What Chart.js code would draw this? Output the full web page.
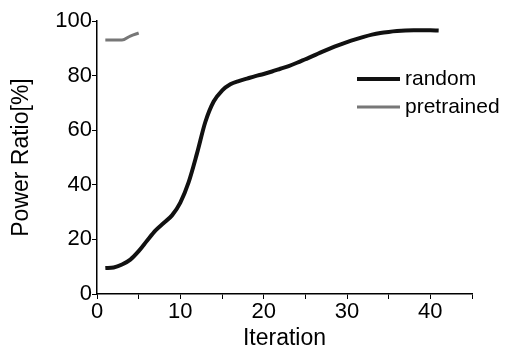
<!DOCTYPE html>
<html lang="en">
<head>
  <meta charset="UTF-8" />
  <title>Power Ratio vs Iteration</title>
  <script src="https://cdn.jsdelivr.net/npm/chart.js"></script>
  <style>
    html, body { margin: 0; padding: 0; background: #fff; }
    #wrap { width: 511px; height: 352px; }
  </style>
</head>
<body>
  <div id="wrap"><canvas id="ratioChart"></canvas></div>

  <script>
    // values
    const randomIters = [1,2,3,4,5,6,7,8,9,10,11,12,13,14,15,16,17,18,19,20,21,22,23,24,25,26,27,28,29,30,31,32,33,34,35,36,37,38,39,40,41];
    const randomVals  = [9.5,9.7,10.8,12.6,15.7,19.5,23.2,26,28.8,33.5,41,51.5,63,70.5,74.5,76.8,78,78.9,79.8,80.6,81.5,82.5,83.5,84.7,86,87.3,88.7,90,91.2,92.3,93.3,94.2,95,95.6,96,96.3,96.5,96.6,96.6,96.6,96.5];
    const pretrainedIters = [1,2,3,4,5];
    const pretrainedVals  = [93,93,93,94.5,95.6];
    const seriesNames = ['random', 'pretrained'];

    const FONT = '"Liberation Sans", Arial, sans-serif';

    const toPoints = (xs, ys) => xs.map((x, i) => ({ x: x, y: ys[i] }));

    // legend drawn inside the plot, like the original figure
    const insideLegend = {
      id: 'insideLegend',
      afterDatasetsDraw(chart) {
        const ctx = chart.ctx;
        const rows = [79, 107];
        chart.data.datasets.forEach((ds, i) => {
          const y = rows[i];
          ctx.save();
          ctx.strokeStyle = ds.borderColor;
          ctx.lineWidth = ds.borderWidth;
          ctx.beginPath();
          ctx.moveTo(357, y);
          ctx.lineTo(400, y);
          ctx.stroke();
          ctx.fillStyle = '#000';
          ctx.font = '21px ' + FONT;
          ctx.textBaseline = 'middle';
          ctx.fillText(ds.label, 405, y);
          ctx.restore();
        });
      }
    };

    new Chart(document.getElementById('ratioChart'), {
      type: 'line',
      data: {
        datasets: [
          {
            label: seriesNames[0],
            data: toPoints(randomIters, randomVals),
            borderColor: '#111',
            borderWidth: 4,
            pointRadius: 0,
            cubicInterpolationMode: 'monotone'
          },
          {
            label: seriesNames[1],
            data: toPoints(pretrainedIters, pretrainedVals),
            borderColor: '#777',
            borderWidth: 3,
            pointRadius: 0,
            cubicInterpolationMode: 'monotone'
          }
        ]
      },
      options: {
        responsive: true,
        maintainAspectRatio: false,
        animation: false,
        layout: { padding: { top: 21, right: 39, left: 0, bottom: 0 } },
        plugins: {
          legend: { display: false },
          tooltip: { enabled: false }
        },
        scales: {
          x: {
            type: 'linear',
            min: 0,
            max: 45,
            afterFit: s => { s.height = 58; },
            border: { color: '#000', width: 1.5 },
            grid: { drawOnChartArea: false, tickLength: 5, tickColor: '#000' },
            ticks: {
              stepSize: 5,
              color: '#000',
              padding: 0,
              maxRotation: 0,
              font: { family: FONT, size: 22 },
              callback: v => (v % 10 === 0 && v < 45) ? v : ''
            },
            title: {
              display: true,
              text: 'Iteration',
              color: '#000',
              padding: { top: 3, bottom: 0 },
              font: { family: FONT, size: 23 }
            }
          },
          y: {
            min: 0,
            max: 100,
            afterFit: s => { s.width = 97; },
            border: { color: '#000', width: 1.5 },
            grid: { drawOnChartArea: false, tickLength: 5, tickColor: '#000' },
            ticks: {
              stepSize: 10,
              color: '#000',
              padding: 0,
              font: { family: FONT, size: 22 },
              callback: v => v % 20 === 0 ? v : ''
            },
            title: {
              display: true,
              text: 'Power Ratio[%]',
              color: '#000',
              padding: { top: 8, bottom: 0 },
              font: { family: FONT, size: 23 }
            }
          }
        }
      },
      plugins: [insideLegend]
    });
  </script>
</body>
</html>
